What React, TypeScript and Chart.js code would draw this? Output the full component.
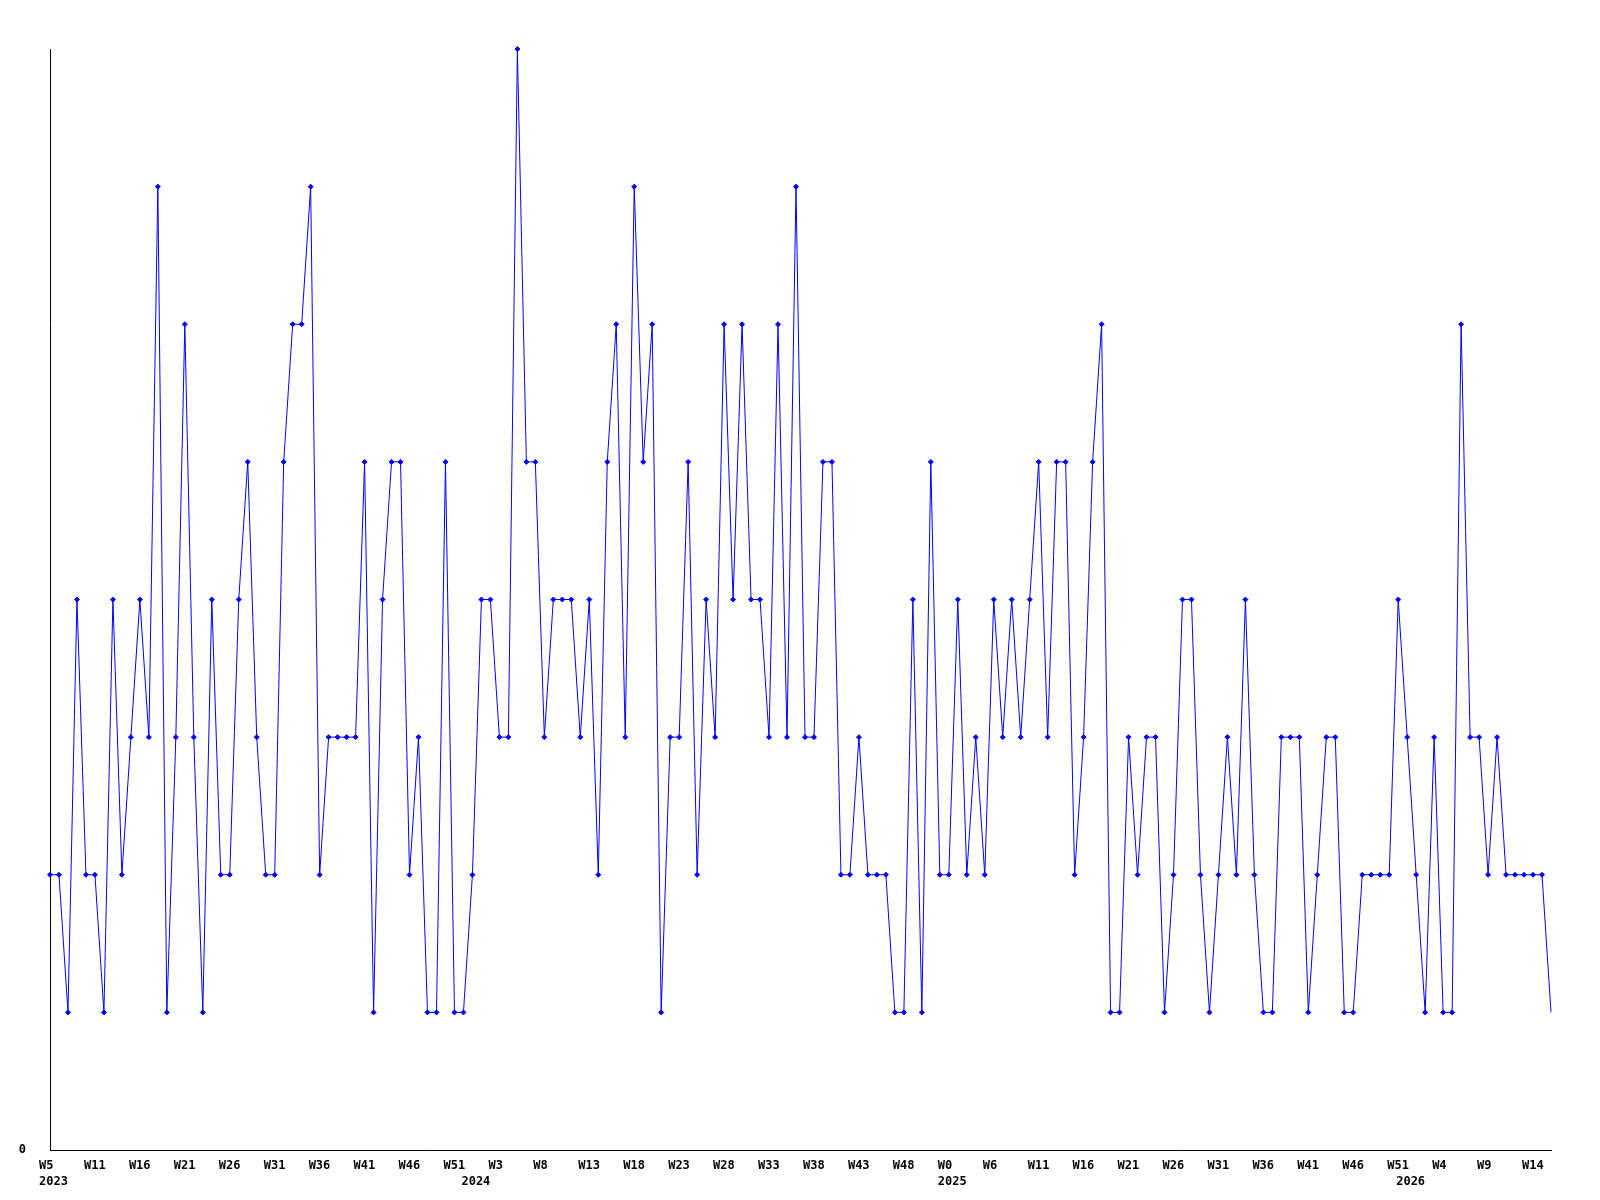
import React, { useEffect, useRef } from "react";
import { Chart, registerables } from "chart.js";

Chart.register(...registerables);

// Weekly values, one per point (168 points)
const values: number[] = [
  2, 2, 1, 4, 2, 2, 1, 4, 2, 3,
  4, 3, 7, 1, 3, 6, 3, 1, 4, 2,
  2, 4, 5, 3, 2, 2, 5, 6, 6, 7,
  2, 3, 3, 3, 3, 5, 1, 4, 5, 5,
  2, 3, 1, 1, 5, 1, 1, 2, 4, 4,
  3, 3, 8, 5, 5, 3, 4, 4, 4, 3,
  4, 2, 5, 6, 3, 7, 5, 6, 1, 3,
  3, 5, 2, 4, 3, 6, 4, 6, 4, 4,
  3, 6, 3, 7, 3, 3, 5, 5, 2, 2,
  3, 2, 2, 2, 1, 1, 4, 1, 5, 2,
  2, 4, 2, 3, 2, 4, 3, 4, 3, 4,
  5, 3, 5, 5, 2, 3, 5, 6, 1, 1,
  3, 2, 3, 3, 1, 2, 4, 4, 2, 1,
  2, 3, 2, 4, 2, 1, 1, 3, 3, 3,
  1, 2, 3, 3, 1, 1, 2, 2, 2, 2,
  4, 3, 2, 1, 3, 1, 1, 6, 3, 3,
  2, 3, 2, 2, 2, 2, 2, 1,
];

// Week tick labels, shown on every 5th point
const weekTicks: string[] = [
  "W5", "W11", "W16", "W21", "W26", "W31", "W36", "W41", "W46", "W51",
  "W3", "W8", "W13", "W18", "W23", "W28", "W33", "W38", "W43", "W48",
  "W0", "W6", "W11", "W16", "W21", "W26", "W31", "W36", "W41", "W46",
  "W51", "W4", "W9", "W14",
];
const weekTickStep = 5;

// Year labels and the point index where each year starts
const yearTicks: string[] = ["2023", "2024", "2025", "2026"];
const yearTickIndex: number[] = [0, 47, 100, 151];

const yMin = 0;
const yMax = 8;

const tickFont = {
  family: "'DejaVu Sans Mono', monospace",
  weight: "bold" as const,
  size: 12,
  lineHeight: 1.3,
};

export default function App() {
  const ref = useRef<HTMLCanvasElement>(null);

  useEffect(() => {
    const labels = values.map((_, i) => {
      const w = i % weekTickStep === 0 ? weekTicks[i / weekTickStep] ?? "" : "";
      const yi = yearTickIndex.indexOf(i);
      const y = yi >= 0 ? yearTicks[yi] : "";
      return y ? [w, y] : w;
    });

    const chart = new Chart(ref.current!, {
      type: "line",
      data: {
        labels,
        datasets: [
          {
            data: values,
            borderColor: "#0000ff",
            borderWidth: 1,
            tension: 0,
            fill: false,
            pointStyle: "rectRot",
            pointRadius: (ctx: any) => (ctx.dataIndex === values.length - 1 ? 0 : 2.5),
            pointBackgroundColor: "#0000ff",
            pointBorderColor: "#0000ff",
            pointBorderWidth: 1,
            clip: false as any,
          },
        ],
      },
      options: {
        animation: false,
        responsive: false,
        maintainAspectRatio: false,
        layout: { padding: { top: 49, right: 49, left: 0, bottom: 0 } },
        plugins: {
          legend: { display: false },
          tooltip: { enabled: false },
        },
        scales: {
          x: {
            type: "category",
            offset: false,
            grid: { display: false, drawTicks: false },
            border: { display: true, color: "#000000", width: 1 },
            ticks: {
              autoSkip: false,
              maxRotation: 0,
              minRotation: 0,
              align: "start",
              labelOffset: -11,
              padding: 8,
              color: "#000000",
              font: tickFont,
            },
            afterFit: (s: any) => {
              s.height = 50;
            },
          },
          y: {
            min: yMin,
            max: yMax,
            grid: { display: false, drawTicks: false },
            border: { display: true, color: "#000000", width: 1 },
            ticks: {
              stepSize: 1,
              padding: 24,
              color: "#000000",
              font: tickFont,
              callback: (v: any) => (v === 0 ? "0" : ""),
            },
            afterFit: (s: any) => {
              s.width = 50;
            },
          },
        },
      },
    } as any);

    return () => chart.destroy();
  }, []);

  return (
    <div style={{ position: "absolute", left: 0, top: 0, width: 1600, height: 1200, background: "#ffffff" }}>
      <canvas ref={ref} width={1600} height={1200} style={{ display: "block" }} />
    </div>
  );
}
